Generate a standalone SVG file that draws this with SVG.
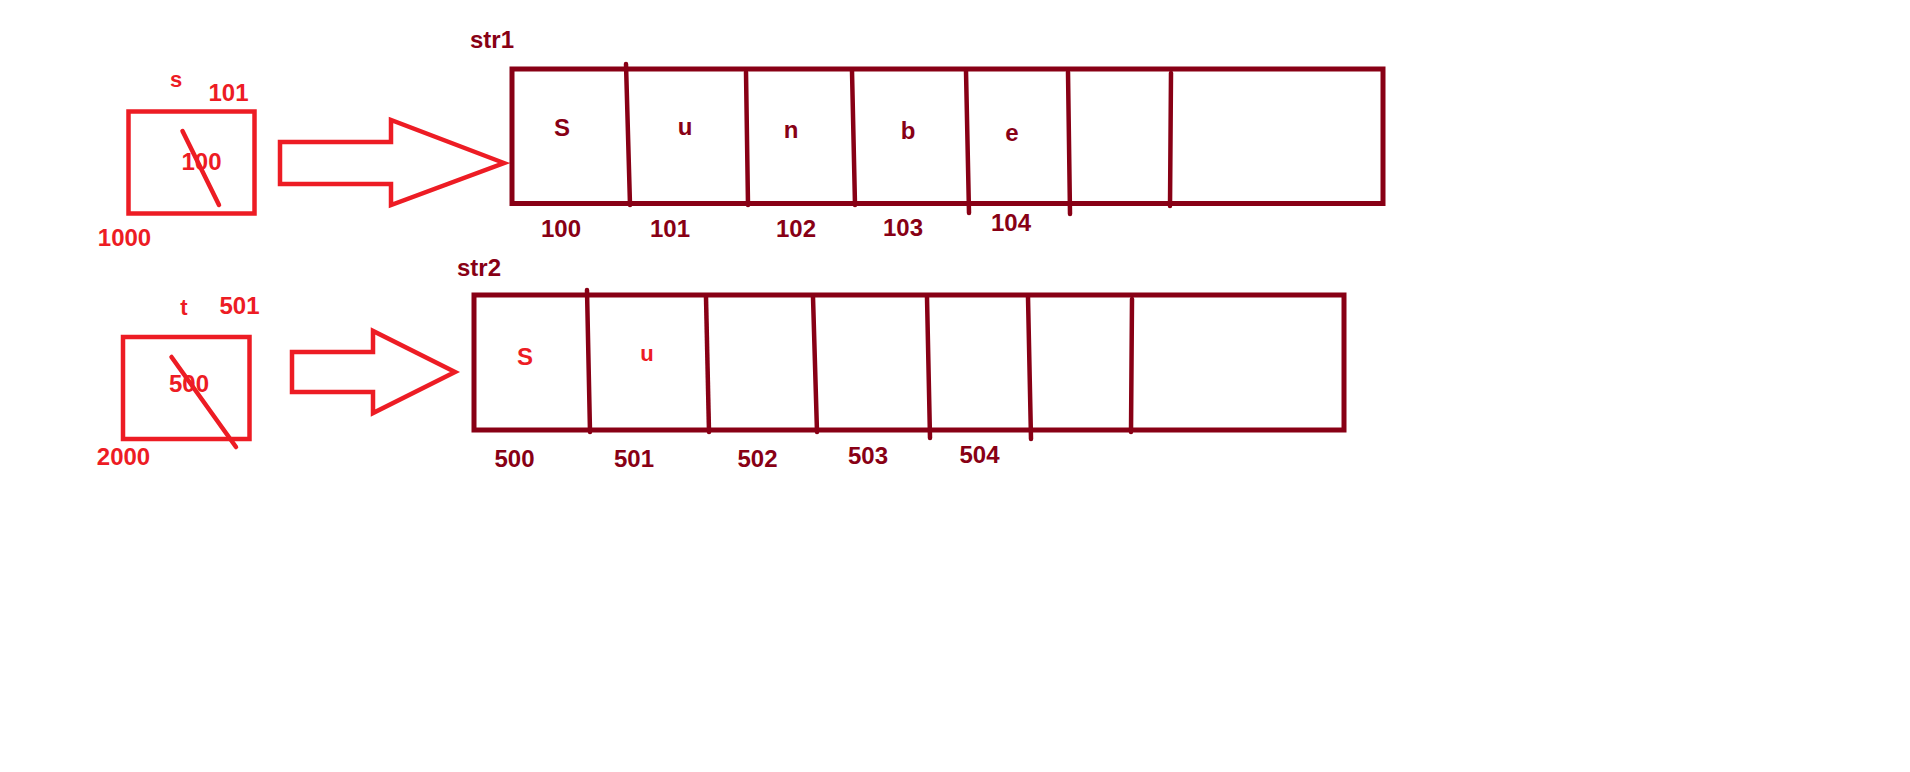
<svg xmlns="http://www.w3.org/2000/svg" width="1910" height="772" viewBox="0 0 1910 772">
<style>
.red{fill:none;stroke:#ED1C24;stroke-width:4.5}
.dk{fill:none;stroke:#880015;stroke-width:5}
.div{stroke:#880015;stroke-width:4.5;stroke-linecap:round}
.slash{stroke:#ED1C24;stroke-width:4.5;stroke-linecap:round}
text{font-family:"Liberation Sans",Arial,sans-serif;font-weight:bold;font-size:24px;text-anchor:middle}
.tr{fill:#ED1C24}
.td{fill:#880015}
.sm{font-size:22px}
</style>
<rect width="1910" height="772" fill="#ffffff"/>
<g id="ptr_s">
<rect class="red" x="128.5" y="111.5" width="126" height="102"/>
<line class="slash" x1="182.5" y1="131" x2="219" y2="205"/>
<text class="tr" x="201.5" y="170">100</text>
<text class="tr sm" x="176" y="87">s</text>
<text class="tr" x="228.5" y="100.5">101</text>
<text class="tr" x="124.5" y="246">1000</text>
</g>
<g id="ptr_t">
<rect class="red" x="123" y="337" width="126.5" height="102"/>
<line class="slash" x1="171.5" y1="357" x2="236" y2="447"/>
<text class="tr" x="189" y="392">500</text>
<text class="tr sm" x="184" y="315">t</text>
<text class="tr" x="239.5" y="314">501</text>
<text class="tr" x="123.5" y="465">2000</text>
</g>
<g id="connectors">
<polygon class="red" stroke-linejoin="miter" points="280,142 391,142 391,120 504,163 391,205 391,184 280,184"/>
<polygon class="red" stroke-linejoin="miter" points="292,352 373,352 373,331 455,372 373,413 373,392 292,392"/>
</g>
<g id="str1">
<text class="td" x="470" y="48" style="text-anchor:start">str1</text>
<rect class="dk" x="512" y="69" width="871" height="134.5"/>
<line class="div" x1="626" y1="64" x2="630" y2="205"/>
<line class="div" x1="746" y1="72" x2="748" y2="205"/>
<line class="div" x1="852" y1="71" x2="855" y2="205"/>
<line class="div" x1="966" y1="71" x2="969" y2="213"/>
<line class="div" x1="1068" y1="72" x2="1070" y2="214"/>
<line class="div" x1="1171" y1="73" x2="1170" y2="206"/>
<text class="td" x="562" y="135.5">S</text>
<text class="td" x="685" y="135">u</text>
<text class="td" x="791" y="138">n</text>
<text class="td" x="908" y="138.5">b</text>
<text class="td" x="1012" y="141">e</text>
<text class="td" x="561" y="237">100</text>
<text class="td" x="670" y="237">101</text>
<text class="td" x="796" y="237">102</text>
<text class="td" x="903" y="236">103</text>
<text class="td" x="1011" y="231">104</text>
</g>
<g id="str2">
<text class="td" x="457" y="276" style="text-anchor:start">str2</text>
<rect class="dk" x="474" y="295" width="870" height="135"/>
<line class="div" x1="587" y1="290" x2="590" y2="432"/>
<line class="div" x1="706" y1="297" x2="709" y2="432"/>
<line class="div" x1="813" y1="297" x2="817" y2="432"/>
<line class="div" x1="927" y1="297" x2="930" y2="438"/>
<line class="div" x1="1028" y1="297" x2="1031" y2="439"/>
<line class="div" x1="1132" y1="299" x2="1131" y2="432"/>
<text class="tr" x="525" y="365">S</text>
<text class="tr sm" x="647" y="360.5">u</text>
<text class="td" x="514.5" y="467">500</text>
<text class="td" x="634" y="467">501</text>
<text class="td" x="757.5" y="467">502</text>
<text class="td" x="868" y="464">503</text>
<text class="td" x="979.5" y="463">504</text>
</g>
</svg>
